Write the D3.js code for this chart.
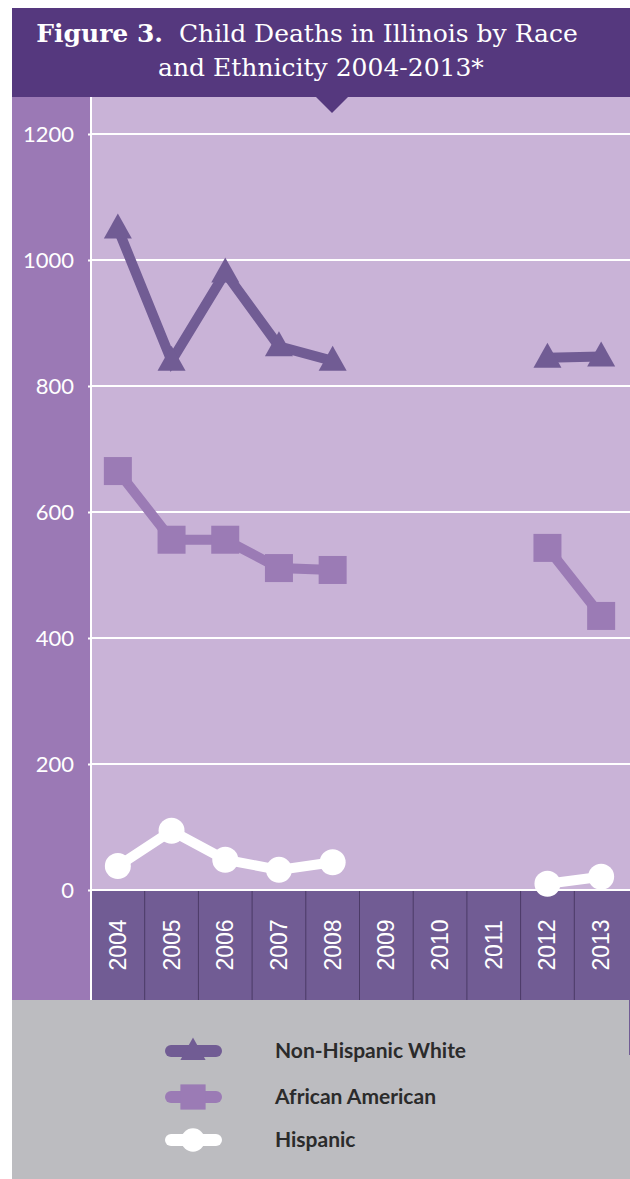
<!DOCTYPE html>
<html lang="en">
<head>
  <meta charset="utf-8">
  <title>Child Deaths in Illinois by Race and Ethnicity</title>
  <script src="https://cdnjs.cloudflare.com/ajax/libs/d3/7.8.5/d3.min.js"></script>
  <style>
    body { margin: 0; background: #fff; }
    svg { display: block; }
  </style>
</head>
<body>
<svg width="630" height="1179"></svg>
<script>
// data (null = no data for that year)
var years = ["2004", "2005", "2006", "2007", "2008", "2009", "2010", "2011", "2012", "2013"];
var whiteDeaths = [1050, 840, 980, 863, 840, null, null, null, 845, 847];
var blackDeaths = [665, 556, 556, 511, 508, null, null, null, 543, 435];
var hispanicDeaths = [38, 94, 48, 32, 44, null, null, null, 10, 21];
var yTicks = [0, 200, 400, 600, 800, 1000, 1200];
var legendNames = ["Non-Hispanic White", "African American", "Hispanic"];

var svg = d3.select("svg");

var plotLeft = 91, plotRight = 628, plotTop = 97, zeroY = 890, bandBottom = 1000;

var x = d3.scaleBand().domain(years).range([plotLeft, plotRight]);
var y = d3.scaleLinear().domain([0, 1200]).range([zeroY, 134]);

// backgrounds
svg.append("rect").attr("x", 12).attr("y", 8).attr("width", 618).attr("height", 90).attr("fill", "#55387e");
svg.append("rect").attr("x", 12).attr("y", plotTop).attr("width", plotLeft - 12).attr("height", bandBottom - plotTop).attr("fill", "#9b79b5");
svg.append("rect").attr("x", plotLeft).attr("y", plotTop).attr("width", 630 - plotLeft).attr("height", zeroY - plotTop).attr("fill", "#c9b3d7");
svg.append("rect").attr("x", plotLeft).attr("y", zeroY).attr("width", 630 - plotLeft).attr("height", bandBottom - zeroY).attr("fill", "#715c94");
svg.append("rect").attr("x", 12).attr("y", bandBottom).attr("width", 618).attr("height", 1179 - bandBottom).attr("fill", "#bcbcc0");

// pointer under the title
svg.append("path")
    .attr("d", "M316,97 L348,97 L332,113 Z")
    .attr("fill", "#55387e");

// title
var title = svg.append("text")
    .attr("text-anchor", "middle")
    .attr("fill", "#fff")
    .style("font", "25px 'DejaVu Serif', serif");
var t1 = title.append("tspan").attr("x", 307).attr("y", 42);
t1.append("tspan").style("font-weight", "bold").text("Figure 3.");
t1.append("tspan").text("\u00a0 Child Deaths in Illinois by Race");
title.append("tspan").attr("x", 321).attr("y", 76).text("and Ethnicity 2004-2013*");

// grid + y axis
var yAxis = svg.append("g")
    .attr("transform", "translate(" + plotLeft + ",0)")
    .call(d3.axisLeft(y).tickValues(yTicks).tickFormat(d3.format("d")).tickSize(3).tickPadding(14));
yAxis.select(".domain").remove();
yAxis.selectAll("line").attr("stroke", "#fff").attr("stroke-width", 2);
yAxis.selectAll("text")
    .attr("fill", "#fff")
    .style("font", "22px Lato, sans-serif");

svg.append("g").selectAll("line")
  .data(yTicks.filter(function(d) { return d > 0; }))
  .enter().append("line")
    .attr("x1", plotLeft).attr("x2", 630)
    .attr("y1", function(d) { return y(d); }).attr("y2", function(d) { return y(d); })
    .attr("stroke", "#fff").attr("stroke-width", 2);

// x axis band separators and labels
svg.append("g").selectAll("line")
  .data(years.slice(1))
  .enter().append("line")
    .attr("x1", function(d) { return x(d); }).attr("x2", function(d) { return x(d); })
    .attr("y1", zeroY).attr("y2", bandBottom)
    .attr("stroke", "#4b3a66").attr("stroke-width", 1);

svg.append("g").selectAll("text")
  .data(years)
  .enter().append("text")
    .attr("transform", function(d) {
      return "translate(" + (x(d) + x.bandwidth() / 2 + 8) + ",945) rotate(-90)";
    })
    .attr("text-anchor", "middle")
    .attr("fill", "#fff")
    .style("font", "23px 'Liberation Sans', Arial, sans-serif")
    .text(function(d) { return d; });

svg.append("line")
    .attr("x1", 629.5).attr("x2", 629.5).attr("y1", zeroY).attr("y2", 1055)
    .attr("stroke", "#715c94");

// white axis lines
svg.append("line").attr("x1", plotLeft).attr("x2", plotLeft).attr("y1", plotTop).attr("y2", bandBottom)
    .attr("stroke", "#fff").attr("stroke-width", 2);
svg.append("line").attr("x1", plotLeft).attr("x2", 630).attr("y1", zeroY).attr("y2", zeroY)
    .attr("stroke", "#fff").attr("stroke-width", 2);

// series
var cx = function(i) { return x(years[i]) + x.bandwidth() / 2; };
var line = d3.line()
    .defined(function(d) { return d != null; })
    .x(function(d, i) { return cx(i); })
    .y(function(d) { return y(d); });

var series = [
  {name: legendNames[0], values: whiteDeaths, color: "#715c94", shape: "triangle"},
  {name: legendNames[1], values: blackDeaths, color: "#9b7bb5", shape: "square"},
  {name: legendNames[2], values: hispanicDeaths, color: "#ffffff", shape: "circle"}
];

function marker(g, shape, color) {
  if (shape === "triangle") {
    g.append("path").attr("d", "M0,-15 L14,10 L-14,10 Z").attr("fill", color);
  } else if (shape === "square") {
    g.append("rect").attr("x", -14).attr("y", -14).attr("width", 28).attr("height", 28).attr("fill", color);
  } else {
    g.append("circle").attr("r", 13).attr("fill", color);
  }
}

series.forEach(function(s) {
  svg.append("path")
      .attr("d", line(s.values))
      .attr("fill", "none")
      .attr("stroke", s.color)
      .attr("stroke-width", 10);
  s.values.forEach(function(v, i) {
    if (v == null) return;
    var g = svg.append("g").attr("transform", "translate(" + cx(i) + "," + y(v) + ")");
    marker(g, s.shape, s.color);
  });
});

// legend
var legend = svg.append("g").selectAll("g")
  .data(series)
  .enter().append("g")
    .attr("transform", function(d, i) { return "translate(0," + [1051, 1097, 1140][i] + ")"; });

legend.append("line")
    .attr("x1", 171).attr("x2", 216)
    .attr("stroke", function(d) { return d.color; })
    .attr("stroke-width", 12)
    .attr("stroke-linecap", "round");
legend.each(function(d) {
  var g = d3.select(this).append("g").attr("transform", "translate(193,0) scale(0.9)");
  marker(g, d.shape, d.color);
});
legend.append("text")
    .attr("x", 275).attr("dy", "0.35em")
    .attr("fill", "#2b2b2b")
    .style("font", "bold 21px Lato, sans-serif")
    .text(function(d) { return d.name; });
</script>
</body>
</html>
